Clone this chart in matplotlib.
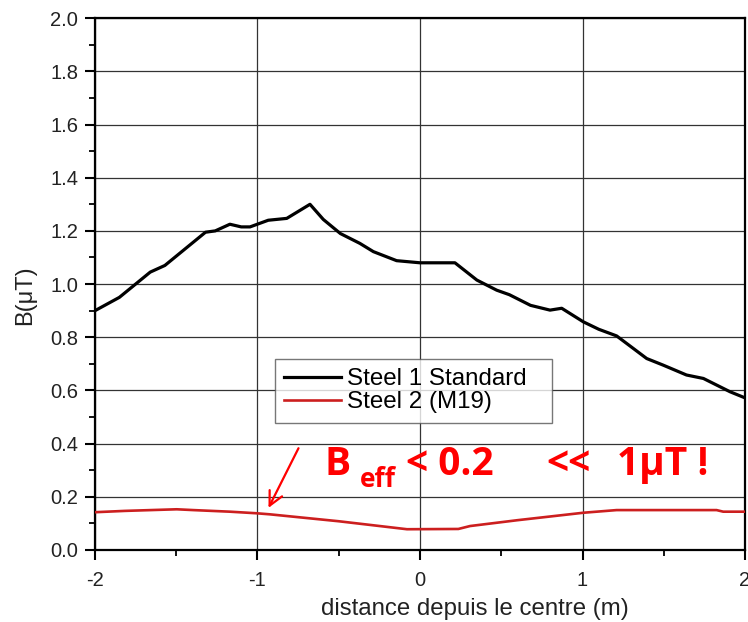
import numpy as np
import matplotlib.pyplot as plt
from matplotlib.ticker import MultipleLocator

plt.rcParams['font.family'] = ['Liberation Sans', 'DejaVu Sans']
plt.rcParams['axes.unicode_minus'] = False

# Steel 1 (standard) field profile
x_std = [-2.0, -1.85, -1.66, -1.57, -1.35, -1.32, -1.26, -1.17, -1.10, -1.046,
         -0.934, -0.82, -0.677, -0.595, -0.49, -0.37, -0.287, -0.144, 0.0, 0.215,
         0.35, 0.472, 0.55, 0.68, 0.80, 0.872, 1.005, 1.10, 1.21, 1.395, 1.497,
         1.64, 1.744, 1.908, 2.0]
b_std = [0.90, 0.95, 1.045, 1.07, 1.18, 1.195, 1.20, 1.225, 1.215, 1.215,
         1.24, 1.247, 1.30, 1.243, 1.19, 1.153, 1.122, 1.088, 1.080, 1.080,
         1.015, 0.977, 0.96, 0.92, 0.902, 0.909, 0.858, 0.83, 0.805, 0.72, 0.695,
         0.658, 0.645, 0.595, 0.572]

# Steel 2 (M19) field profile
x_m19 = [-2.0, -1.815, -1.497, -1.395, -1.17, -1.005, -0.923, -0.50, -0.08,
         0.236, 0.308, 0.60, 1.005, 1.21, 1.825, 1.866, 2.0]
b_m19 = [0.142, 0.147, 0.153, 0.150, 0.144, 0.138, 0.134, 0.108, 0.078,
         0.079, 0.090, 0.112, 0.140, 0.150, 0.150, 0.144, 0.144]

labels = ['Steel 1 Standard', 'Steel 2 (M19)']

fig = plt.figure(figsize=(7.48, 6.22), dpi=100)
ax = fig.add_axes([0.127, 0.1158, 0.869, 0.855])

ax.plot(x_std, b_std, color='black', lw=2.3, label=labels[0], zorder=3)
ax.plot(x_m19, b_m19, color='#cc1f1f', lw=1.9, label=labels[1], zorder=3)

ax.set_xlim(-2, 2)
ax.set_ylim(0, 2.0)
ax.xaxis.set_major_locator(MultipleLocator(1))
ax.xaxis.set_minor_locator(MultipleLocator(0.5))
ax.yaxis.set_major_locator(MultipleLocator(0.2))
ax.yaxis.set_minor_locator(MultipleLocator(0.1))
ax.yaxis.set_major_formatter(plt.FormatStrFormatter('%.1f'))
ax.tick_params(which='major', direction='out', length=7, width=1.5, labelsize=14.5,
               colors='black', labelcolor='#222222', pad=5)
ax.tick_params(axis='x', which='major', pad=8)
ax.tick_params(which='minor', direction='out', length=4, width=1.3)
ax.grid(True, which='major', color='#333333', lw=0.9)
ax.set_axisbelow(True)
for sp in ax.spines.values():
    sp.set_linewidth(1.6)

ax.set_xlabel('distance depuis le centre (m)', fontsize=17.3, color='#222222')
ax.set_ylabel('B(μT)', fontsize=17, color='#222222')
ax.xaxis.set_label_coords(0.585, -0.09)
ax.yaxis.set_label_coords(-0.09, 0.479)

# legend box stretched to a fixed width
leg = ax.legend(loc='upper left', bbox_to_anchor=(0.277, 0.259, 0.426, 0.1),
                mode='expand', fontsize=17.4, frameon=True, fancybox=False,
                handlelength=2.35, handletextpad=0.25, borderpad=0.38,
                labelspacing=0.05, borderaxespad=0)
leg.get_frame().set_edgecolor('#555555')
leg.get_frame().set_linewidth(1.0)

# red annotation
red = '#ff0000'
big = dict(color=red, fontsize=28, fontweight='bold', family='Open Sans', va='baseline')
ax.text(-0.59, 0.282, 'B', **big)
ax.text(-0.369, 0.237, 'eff', color=red, fontsize=19, fontweight='bold',
        family='Open Sans', va='baseline')
ax.text(-0.085, 0.282, '< 0.2', **big)
ax.text(0.78, 0.282, '<<', **big)
ax.text(1.21, 0.282, '1µT !', **big)
ax.annotate('', xy=(-0.94, 0.149), xytext=(-0.74, 0.392),
            arrowprops=dict(arrowstyle='->,head_length=1.0,head_width=0.5',
                            color=red, lw=1.6))

fig.savefig('out.png', dpi=100)
